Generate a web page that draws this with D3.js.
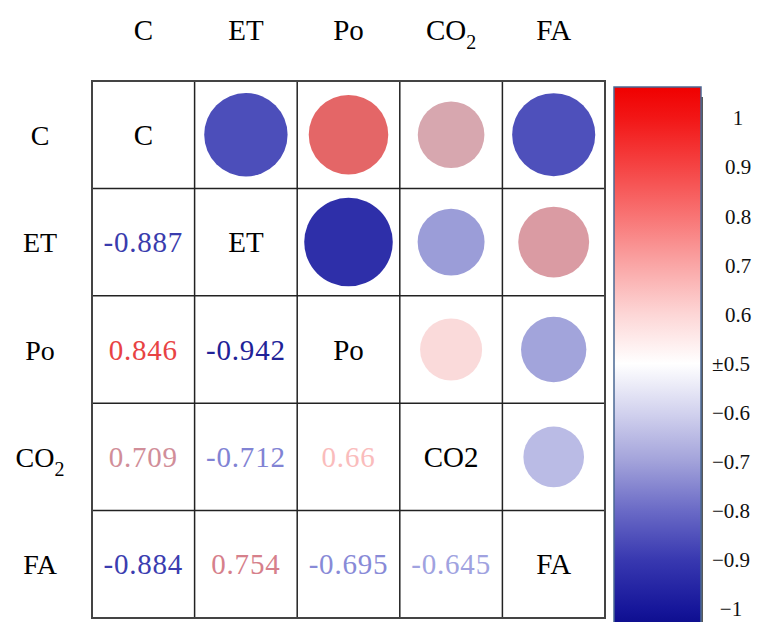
<!DOCTYPE html>
<html>
<head>
<meta charset="utf-8">
<script src="https://cdn.jsdelivr.net/npm/d3@7"></script>
<style>
  body { margin: 0; background: #fff; }
  svg { display: block; }
</style>
</head>
<body>
<div id="chart"></div>
<script>
// data
var variables = ["C", "ET", "Po", "CO2", "FA"];
var corrC   = [1, -0.887, 0.846, 0.709, -0.884];
var corrET  = [-0.887, 1, -0.942, -0.712, 0.754];
var corrPo  = [0.846, -0.942, 1, 0.66, -0.695];
var corrCO2 = [0.709, -0.712, 0.66, 1, -0.645];
var corrFA  = [-0.884, 0.754, -0.695, -0.645, 1];
var matrix = [corrC, corrET, corrPo, corrCO2, corrFA];
var barTickLabels = ["1", "0.9", "0.8", "0.7", "0.6", "\u00b10.5", "\u22120.6", "\u22120.7", "\u22120.8", "\u22120.9", "\u22121"];
var barTickValues = [1, 0.9, 0.8, 0.7, 0.6, 0.5, -0.6, -0.7, -0.8, -0.9, -1];

var attrs = {
  svgWidth: 759,
  svgHeight: 622,
  gridLeft: 92,
  gridRight: 605,
  gridTop: 81,
  gridBottom: 618,
  font: '"Liberation Serif", "Times New Roman", serif'
};

var svg = d3.select("#chart").append("svg")
  .attr("width", attrs.svgWidth)
  .attr("height", attrs.svgHeight)
  .attr("font-family", attrs.font);

var x = d3.scaleBand().domain(d3.range(variables.length)).range([attrs.gridLeft, attrs.gridRight]);
var y = d3.scaleBand().domain(d3.range(variables.length)).range([attrs.gridTop, attrs.gridBottom]);

// circle / text colour (stops tuned to the reference marks)
var color = d3.scaleLinear()
  .domain([-1, -0.95, -0.9, -0.85, -0.8, -0.7, -0.6, -0.5, 0.5, 0.6, 0.66, 0.71, 0.76, 0.85, 1])
  .range(["#14148f", "#2a2aa6", "#4648b7", "#5e60c2", "#7476ca", "#a0a2da", "#cfd0ee", "#ffffff",
          "#ffffff", "#fdeaea", "#fadada", "#d6a6ae", "#da9aa2", "#e46464", "#f00000"])
  .interpolate(d3.interpolateRgb);

var radius = d3.scaleLinear().domain([0, 1]).range([0, 47]);

function textColor(v) {
  var c = d3.hsl(color(v));
  c.s = Math.min(1, c.s * 1.12);
  c.l = c.l - 0.06;
  return c.formatHex();
}

// cells
var cells = [];
matrix.forEach(function(row, i) {
  row.forEach(function(v, j) { cells.push({ i: i, j: j, v: v }); });
});

var cell = svg.append("g").attr("class", "cells")
  .selectAll("g").data(cells).enter().append("g")
  .attr("transform", function(d) {
    return "translate(" + (x(d.j) + x.bandwidth() / 2) + "," + (y(d.i) + y.bandwidth() / 2) + ")";
  });

cell.filter(function(d) { return d.j > d.i; })
  .append("circle")
  .attr("r", function(d) { return radius(Math.abs(d.v)); })
  .attr("fill", function(d) { return color(d.v); });

cell.filter(function(d) { return d.j < d.i; })
  .append("text")
  .attr("text-anchor", "middle")
  .attr("dy", "0.35em")
  .attr("font-size", 29)
  .attr("letter-spacing", 0.8)
  .attr("fill", function(d) { return textColor(d.v); })
  .text(function(d) { return String(d.v); });

cell.filter(function(d) { return d.j === d.i; })
  .append("text")
  .attr("text-anchor", "middle")
  .attr("dy", "0.35em")
  .attr("font-size", 29)
  .attr("fill", "#000")
  .text(function(d) { return variables[d.i]; });

// grid lines
var grid = svg.append("g").attr("class", "grid");
var xs = d3.range(variables.length + 1).map(function(k) { return attrs.gridLeft + k * x.step(); });
var ys = d3.range(variables.length + 1).map(function(k) { return attrs.gridTop + k * y.step(); });
grid.selectAll(".vline").data(xs).enter().append("line")
  .attr("x1", function(d) { return d; }).attr("x2", function(d) { return d; })
  .attr("y1", attrs.gridTop).attr("y2", attrs.gridBottom)
  .attr("stroke", "#222").attr("stroke-width", 1.5);
grid.selectAll(".hline").data(ys).enter().append("line")
  .attr("y1", function(d) { return d; }).attr("y2", function(d) { return d; })
  .attr("x1", attrs.gridLeft).attr("x2", attrs.gridRight)
  .attr("stroke", "#222").attr("stroke-width", 1.5);
grid.append("rect")
  .attr("x", attrs.gridLeft).attr("y", attrs.gridTop)
  .attr("width", attrs.gridRight - attrs.gridLeft).attr("height", attrs.gridBottom - attrs.gridTop)
  .attr("fill", "none").attr("stroke", "#444").attr("stroke-width", 2);

// headers (CO2 with subscript)
function writeLabel(sel, name) {
  if (name === "CO2") {
    sel.append("tspan").text("CO");
    sel.append("tspan").attr("font-size", 20).attr("dy", 9).text("2");
  } else {
    sel.text(name);
  }
}

svg.append("g").selectAll("text").data(variables).enter().append("text")
  .attr("x", function(d, i) { return x(i) + x.bandwidth() / 2; })
  .attr("y", 40)
  .attr("text-anchor", "middle")
  .attr("font-size", 29)
  .each(function(d) { writeLabel(d3.select(this), d); });

svg.append("g").selectAll("text").data(variables).enter().append("text")
  .attr("x", 40)
  .attr("y", function(d, i) { return y(i) + y.bandwidth() / 2 + 10; })
  .attr("text-anchor", "middle")
  .attr("font-size", 28)
  .each(function(d) { writeLabel(d3.select(this), d); });

// colour bar
var bar = { x: 614, y: 87, w: 87, h: 540 };
var tickY = d3.scalePoint().domain(barTickLabels).range([118, 609]);
var barColor = d3.scaleLinear()
  .domain([1.06, 1, 0.9, 0.8, 0.7, 0.6, 0.5, -0.6, -0.7, -0.8, -0.9, -1, -1.06])
  .range(["#f00000", "#f21616", "#f54444", "#f87474", "#faa6a6", "#fdd6d6", "#ffffff",
          "#d2d2ee", "#a2a2da", "#6a6ac6", "#3838b0", "#16169a", "#0c0c8c"]);

var defs = svg.append("defs");
var grad = defs.append("linearGradient").attr("id", "barGrad")
  .attr("x1", 0).attr("y1", 0).attr("x2", 0).attr("y2", 1);
var stopData = [{ y: 87, v: 1.06 }].concat(barTickValues.map(function(v, k) {
  return { y: tickY(barTickLabels[k]), v: v };
})).concat([{ y: 627, v: -1.06 }]);
grad.selectAll("stop").data(stopData).enter().append("stop")
  .attr("offset", function(d) { return ((d.y - bar.y) / bar.h * 100) + "%"; })
  .attr("stop-color", function(d) { return barColor(d.v); });

svg.append("line")
  .attr("x1", bar.x + bar.w + 1).attr("x2", bar.x + bar.w + 1)
  .attr("y1", bar.y + 10).attr("y2", bar.y + bar.h)
  .attr("stroke", "#222").attr("stroke-width", 1.5);
svg.append("rect")
  .attr("x", bar.x).attr("y", bar.y).attr("width", bar.w).attr("height", bar.h)
  .attr("fill", "url(#barGrad)")
  .attr("stroke", "#4a6894").attr("stroke-width", 1.5);

svg.append("g").selectAll("text").data(barTickLabels).enter().append("text")
  .attr("x", function(d) { return d.charAt(0) === "\u2212" || d.charAt(0) === "\u00b1" ? 731 : 738; })
  .attr("y", function(d) { return tickY(d); })
  .attr("dy", "0.35em")
  .attr("text-anchor", "middle")
  .attr("font-size", 21)
  .attr("fill", "#111")
  .text(function(d) { return d; });
</script>
</body>
</html>
